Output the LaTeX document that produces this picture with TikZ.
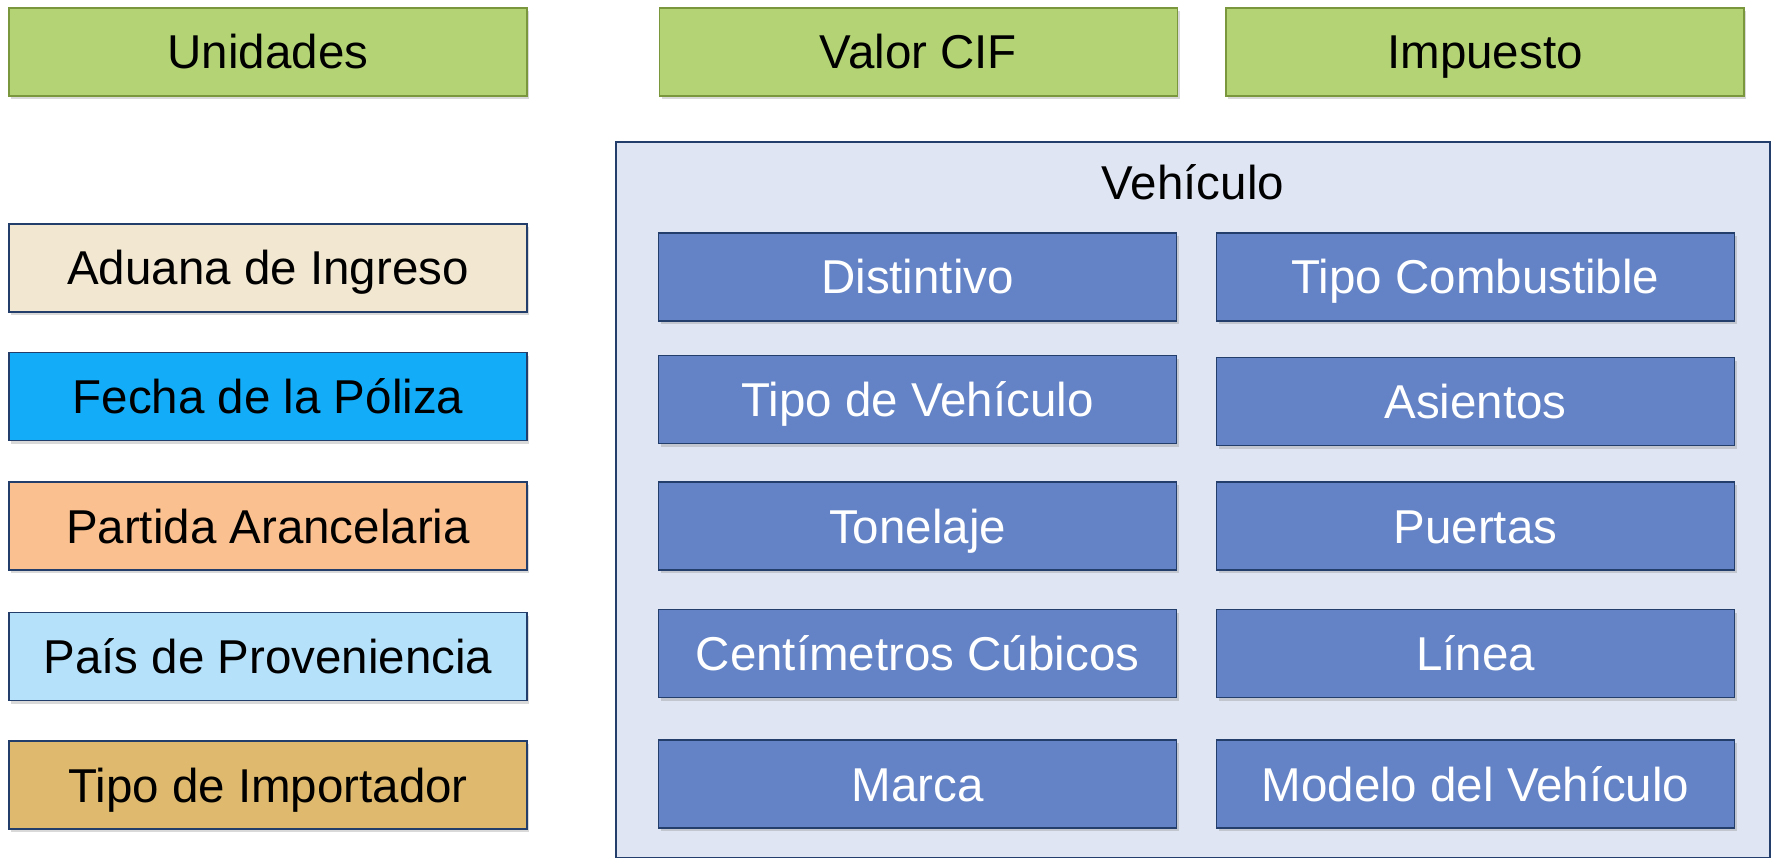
\documentclass[tikz,border=0pt]{standalone}
\usepackage{fontspec}
\setmainfont{Liberation Sans}
\usepackage{xcolor}
\usetikzlibrary{shapes,positioning,shadows,backgrounds}

\definecolor{greenfill}{RGB}{179,211,117}
\definecolor{greenline}{RGB}{122,151,62}
\definecolor{navyline}{RGB}{36,62,108}
\definecolor{bluefill}{RGB}{99,131,198}
\definecolor{panelfill}{RGB}{223,229,242}
\definecolor{beigefill}{RGB}{242,231,209}
\definecolor{skyfill}{RGB}{18,172,248}
\definecolor{peachfill}{RGB}{250,192,143}
\definecolor{paleblue}{RGB}{181,225,250}
\definecolor{tanfill}{RGB}{223,185,110}

\tikzset{
    label text/.style={font=\fontsize{47.5}{56}\selectfont, text height=34pt, text depth=0pt},
    box/.style={rectangle, draw, line width=1.5pt, minimum width=518pt, minimum height=88pt,
        inner sep=0pt, label text,
        drop shadow={shadow xshift=2pt, shadow yshift=-3pt, opacity=0.3}},
    topbox/.style={box, fill=greenfill, draw=greenline},
    leftbox/.style={box, draw=navyline, fill=#1},
    itembox/.style={box, draw=navyline, fill=bluefill, text=white}
}

\begin{document}
\begin{tikzpicture}[x=1pt, y=1pt]
    \useasboundingbox (0,0) rectangle (1771,-858);

    % Top row
    \node[topbox] (unidades) at (268,-52) {Unidades};
    \node[topbox, right=131pt of unidades] (valorcif) {Valor CIF};
    \node[topbox, right=47pt of valorcif] (impuesto) {Impuesto};

    % Vehicle panel
    \node[rectangle, draw=navyline, line width=1.5pt, fill=panelfill,
          minimum width=1154pt, minimum height=716pt] (vehiculo) at (1193,-500) {};
    \node[label text, inner sep=0pt, below=24pt of vehiculo.north] (vehtitle) {Vehículo};

    % Left column
    \node[leftbox=beigefill] (aduana) at (268,-268) {Aduana de Ingreso};
    \node[leftbox=skyfill, below=39pt of aduana] (fecha) {Fecha de la Póliza};
    \node[leftbox=peachfill, below=40pt of fecha] (partida) {Partida Arancelaria};
    \node[leftbox=paleblue, below=41pt of partida] (pais) {País de Proveniencia};
    \node[leftbox=tanfill, below=39pt of pais] (importador) {Tipo de Importador};

    % Vehicle items, first column
    \node[itembox] (distintivo) at (917.5,-277) {Distintivo};
    \node[itembox, below=33pt of distintivo] (tipoveh) {Tipo de Vehículo};
    \node[itembox, below=37pt of tipoveh] (tonelaje) {Tonelaje};
    \node[itembox, below=38pt of tonelaje] (cc) {Centímetros Cúbicos};
    \node[itembox, below=41pt of cc] (marca) {Marca};

    % Vehicle items, second column
    \node[itembox] (combustible) at (1475.5,-277) {Tipo Combustible};
    \node[itembox, below=35pt of combustible] (asientos) {Asientos};
    \node[itembox, below=35pt of asientos] (puertas) {Puertas};
    \node[itembox, below=38pt of puertas] (linea) {Línea};
    \node[itembox, below=41pt of linea] (modelo) {Modelo del Vehículo};
\end{tikzpicture}
\end{document}
